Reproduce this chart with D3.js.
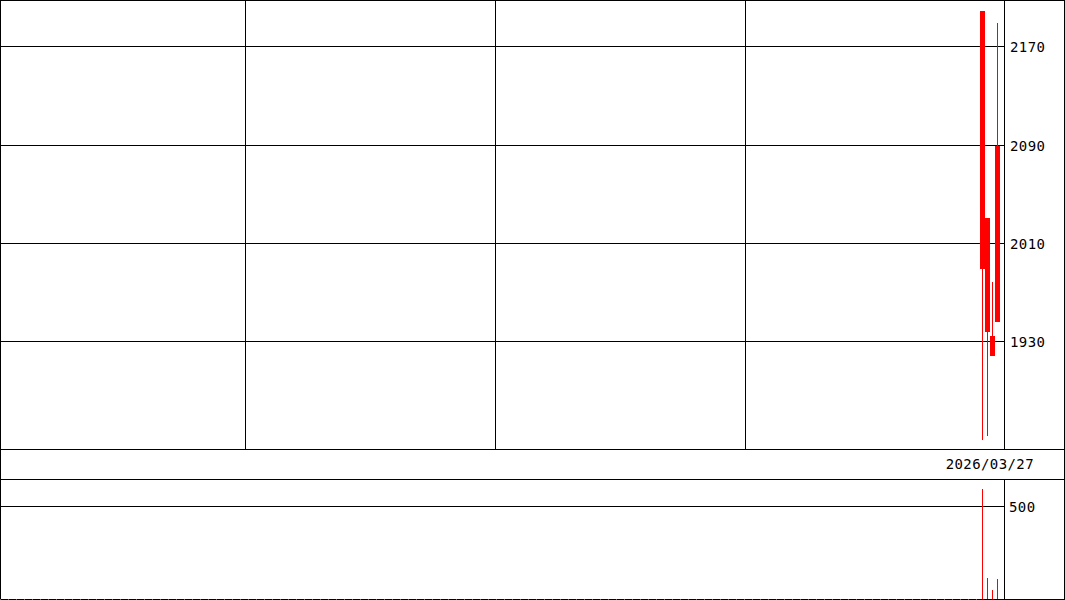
<!DOCTYPE html>
<html lang="ja">
<head>
  <meta charset="UTF-8">
  <title>Daily Candles</title>
  <script src="https://d3js.org/d3.v7.min.js"></script>
  <style>
    body { margin: 0; background: #fff; }
    svg { display: block; }
    .ln { stroke: #000; stroke-width: 1; shape-rendering: crispEdges; fill: none; }
    .lbl { font-family: "DejaVu Sans Mono", monospace; font-size: 14px; fill: #000; letter-spacing: 0.4px; }
  </style>
</head>
<body>
<div id="chart"></div>
<script>
  // data
  const dates = ["2026/03/24", "2026/03/25", "2026/03/26", "2026/03/27"];
  const opens = [1989, 2030, 1934, 1946];
  const highs = [2199, 2030, 1978, 2189];
  const lows = [1850, 1853, 1918, 1946];
  const closes = [2199, 1938, 1918, 2089];
  const volumes = [591, 113, 48, 108];
  const priceTicks = [1930, 2010, 2090, 2170];
  const volumeTicks = [500];
  const slotCount = 200;        // days visible on the x axis
  const gridSlots = [49, 99, 149];
  const lastLabel = "2026/03/27";

  const W = 1065, H = 600;
  const plotR = 1004;
  const priceTop = 0, priceBot = 449;
  const dateBot = 479;
  const volTop = 479, volBot = 599;

  const svg = d3.select("#chart").append("svg")
    .attr("width", W).attr("height", H);

  // x: one slot per trading day, last candle sits next to the axis
  const x = d3.scaleLinear().domain([0, slotCount]).range([0, 1000]);
  const slotOf = i => slotCount - dates.length + i;
  const bw = x(1) - x(0);

  const y = d3.scaleLinear().domain([1930, 2170]).range([341.4, 46.4]);
  const yv = d3.scaleLinear().domain([0, 500]).range([volBot, 506]);

  const px = v => Math.round(v) + 0.5;

  // grid, price panel
  svg.append("g").selectAll("line").data(gridSlots).join("line")
    .attr("class", "ln")
    .attr("x1", d => px(x(d))).attr("x2", d => px(x(d)))
    .attr("y1", priceTop).attr("y2", priceBot);

  svg.append("g").selectAll("line").data(priceTicks).join("line")
    .attr("class", "ln")
    .attr("x1", 0).attr("x2", plotR)
    .attr("y1", d => px(y(d))).attr("y2", d => px(y(d)));

  // grid, volume panel
  svg.append("g").selectAll("line").data(volumeTicks).join("line")
    .attr("class", "ln")
    .attr("x1", 0).attr("x2", plotR)
    .attr("y1", d => px(yv(d))).attr("y2", d => px(yv(d)));

  // frame
  svg.append("rect").attr("class", "ln")
    .attr("x", 0.5).attr("y", 0.5)
    .attr("width", W - 1.5).attr("height", volBot);
  svg.append("line").attr("class", "ln")
    .attr("x1", 0).attr("x2", W).attr("y1", priceBot + 0.5).attr("y2", priceBot + 0.5);
  svg.append("line").attr("class", "ln")
    .attr("x1", 0).attr("x2", W).attr("y1", dateBot + 0.5).attr("y2", dateBot + 0.5);
  svg.append("line").attr("class", "ln")
    .attr("x1", plotR + 0.5).attr("x2", plotR + 0.5).attr("y1", priceTop).attr("y2", priceBot);
  svg.append("line").attr("class", "ln")
    .attr("x1", plotR + 0.5).attr("x2", plotR + 0.5).attr("y1", volTop).attr("y2", volBot);

  // dotted green line on the volume baseline
  svg.append("line")
    .attr("x1", 0).attr("x2", x(slotOf(0)))
    .attr("y1", volBot + 0.5).attr("y2", volBot + 0.5)
    .attr("stroke", "#3a8a3a").attr("stroke-dasharray", "1,7")
    .attr("shape-rendering", "crispEdges");

  // candles
  const idx = d3.range(dates.length);
  const candles = svg.append("g").selectAll("g").data(idx).join("g");

  candles.append("rect")
    .attr("x", i => x(slotOf(i)) + Math.floor(bw / 2))
    .attr("width", 1)
    .attr("y", i => Math.round(y(highs[i])))
    .attr("height", i => Math.round(y(lows[i])) - Math.round(y(highs[i])))
    .attr("fill", "#ff0000")
    .attr("shape-rendering", "crispEdges");

  candles.append("rect")
    .attr("x", i => x(slotOf(i)))
    .attr("width", bw)
    .attr("y", i => Math.round(y(Math.max(opens[i], closes[i]))))
    .attr("height", i => Math.max(1, Math.round(y(Math.min(opens[i], closes[i]))) - Math.round(y(Math.max(opens[i], closes[i])))))
    .attr("fill", "#ff0000")
    .attr("shape-rendering", "crispEdges");

  // volume bars
  svg.append("g").selectAll("rect").data(idx).join("rect")
    .attr("x", i => x(slotOf(i)) + Math.floor(bw / 2))
    .attr("width", 1)
    .attr("y", i => Math.round(yv(volumes[i])))
    .attr("height", i => volBot - Math.round(yv(volumes[i])))
    .attr("fill", "#ff0000")
    .attr("shape-rendering", "crispEdges");

  // axis labels
  const priceAxis = svg.append("g")
    .attr("transform", `translate(${plotR},1)`)
    .call(d3.axisRight(y).tickValues(priceTicks).tickSize(0).tickPadding(6).tickFormat(d3.format("d")));
  priceAxis.select(".domain").remove();
  priceAxis.selectAll("text").attr("class", "lbl");

  const volAxis = svg.append("g")
    .attr("transform", `translate(${plotR},1)`)
    .call(d3.axisRight(yv).tickValues(volumeTicks).tickSize(0).tickPadding(5).tickFormat(d3.format("d")));
  volAxis.select(".domain").remove();
  volAxis.selectAll("text").attr("class", "lbl");

  // date strip
  svg.append("text")
    .attr("class", "lbl")
    .attr("x", 1034)
    .attr("y", (priceBot + dateBot) / 2)
    .attr("dy", "0.35em")
    .attr("text-anchor", "end")
    .text(lastLabel);
</script>
</body>
</html>
